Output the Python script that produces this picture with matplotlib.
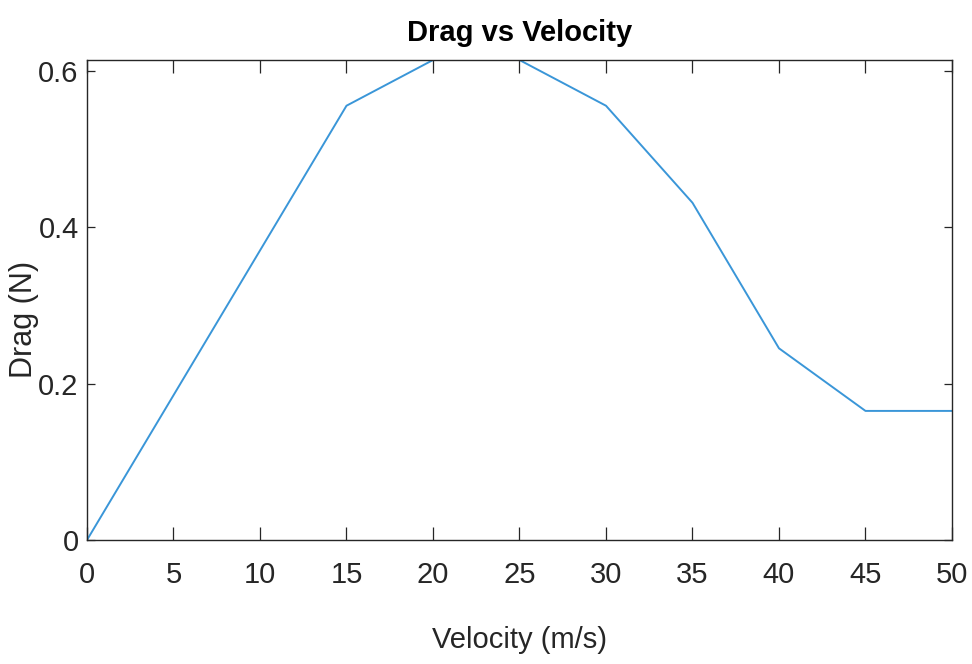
import matplotlib
matplotlib.use("Agg")
import matplotlib.pyplot as plt

# velocity (m/s) and drag (N)
velocity = [0, 5, 10, 15, 20, 25, 30, 35, 40, 45, 50]
drag = [0, 0.185, 0.37, 0.555, 0.6134, 0.6134, 0.555, 0.431, 0.245, 0.165, 0.165]

xticks = [0, 5, 10, 15, 20, 25, 30, 35, 40, 45, 50]
yticks = [0, 0.2, 0.4, 0.6]
ytick_labels = ["0", "0.2", "0.4", "0.6"]

plt.rcParams['font.family'] = ['Liberation Sans', 'DejaVu Sans']

fig = plt.figure(figsize=(9.72, 6.64), dpi=100)
ax = fig.add_axes([0.0895, 0.1867, 0.8899, 0.7229])

ax.plot(velocity, drag, color='#3a96d8', linewidth=1.4)

ax.set_xlim(0, 50)
ax.set_ylim(0, max(drag))
ax.set_xticks(xticks)
ax.set_yticks(yticks)
ax.set_yticklabels(ytick_labels)

edge = '#262626'
for s in ax.spines.values():
    s.set_color(edge)
    s.set_linewidth(1.0)

ax.tick_params(axis='x', direction='in', length=9.5, width=0.9, color=edge,
               top=True, labelsize=21, pad=15, labelcolor='#262626')
ax.tick_params(axis='y', direction='in', length=6, width=0.9, color=edge,
               right=True, labelsize=21, pad=6, labelcolor='#262626')

ax.set_title('Drag vs Velocity', fontsize=21, fontweight='bold', pad=14)
ax.set_xlabel('Velocity (m/s)', fontsize=21, color='#262626', labelpad=27)
ax.set_ylabel('Drag (N)', fontsize=22, color='#262626')
ax.yaxis.set_label_coords(-0.056, 0.46)

fig.savefig('out.png', dpi=100)
